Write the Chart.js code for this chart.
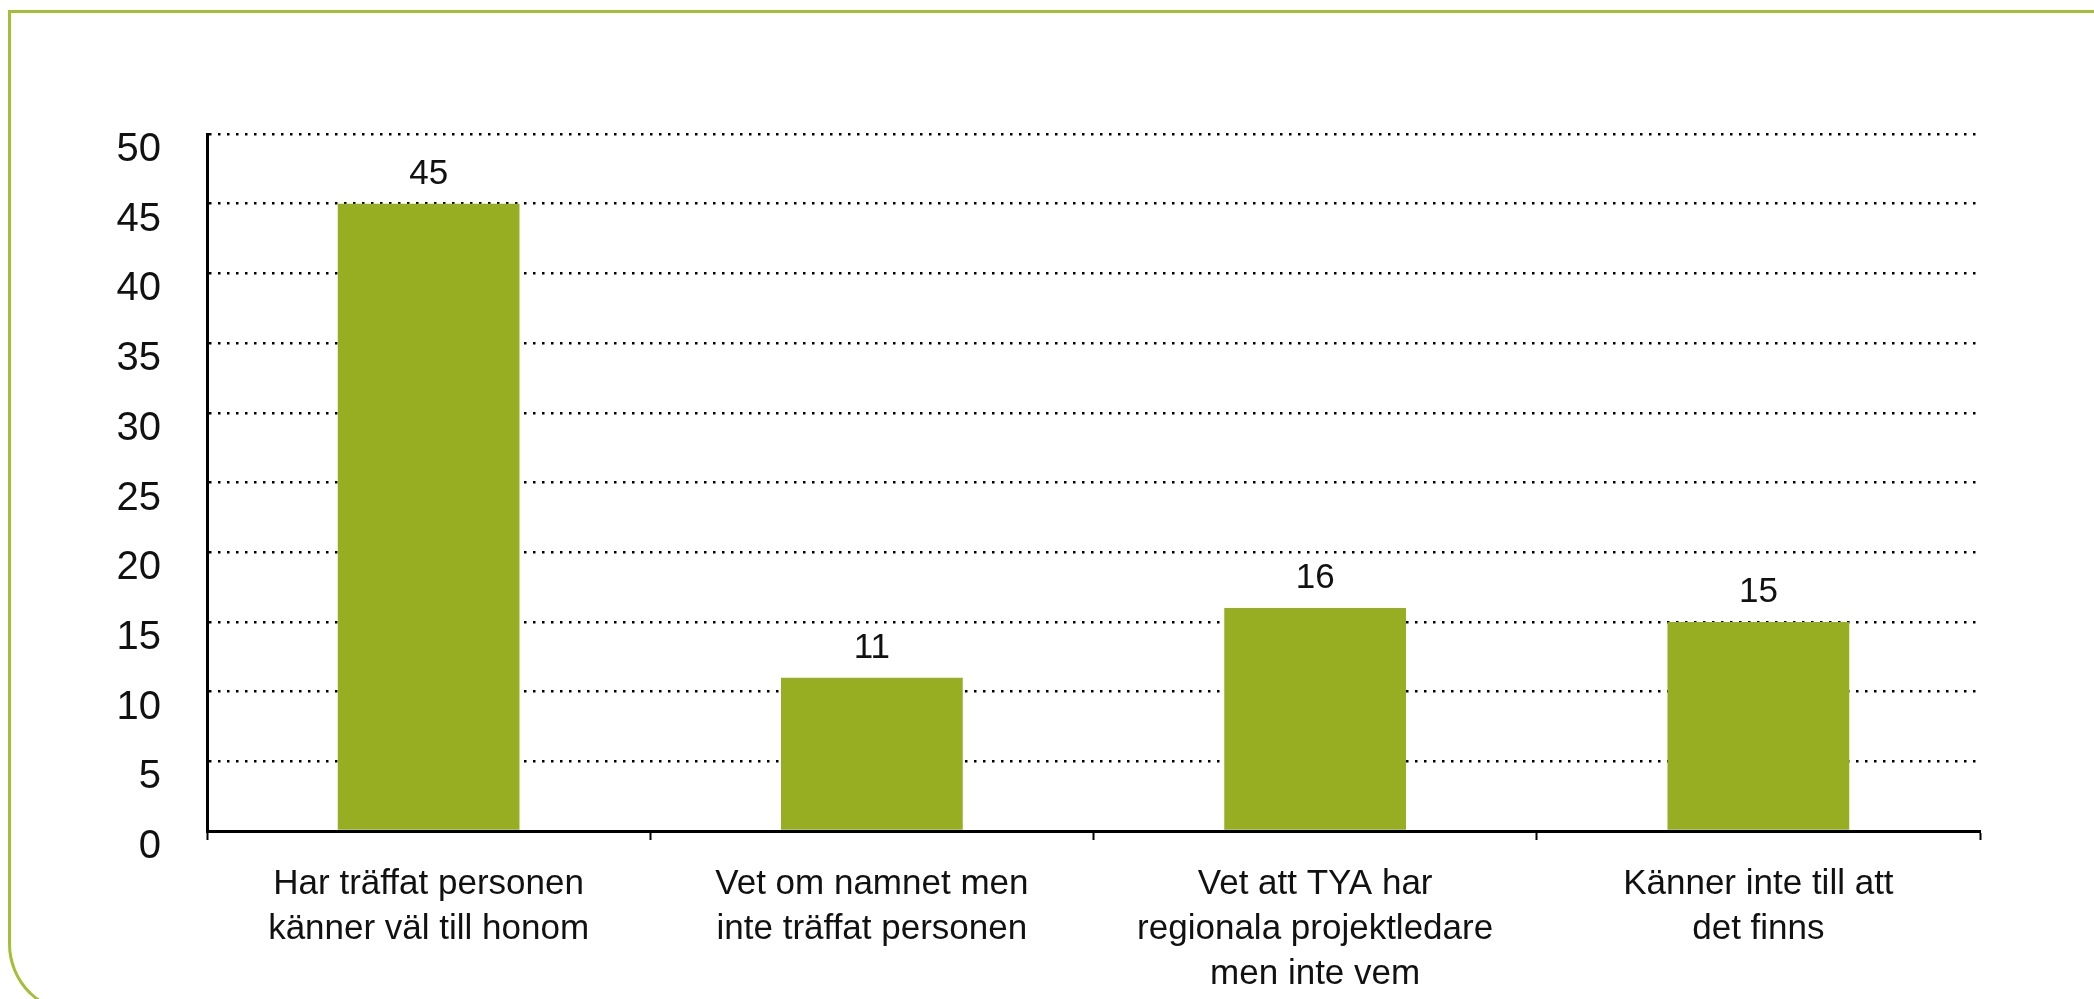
<!DOCTYPE html>
<html>
<head>
<meta charset="utf-8">
<script src="https://cdn.jsdelivr.net/npm/chart.js@4/dist/chart.umd.min.js"></script>
<style>
    html, body { margin: 0; padding: 0; background: #ffffff; overflow: hidden; }
    #frame {
        position: absolute; left: 8px; top: 10px; width: 2200px; height: 998px;
        border-top: 3px solid #a3bf35; border-left: 3px solid #a3bf35; border-bottom: 3px solid #a3bf35;
        border-bottom-left-radius: 70px;
    }
    #wrap { position: absolute; left: 0; top: 0; width: 2094px; height: 999px; }
</style>
</head>
<body>
<div id="frame"></div>
<div id="wrap"><canvas id="chart" width="2094" height="999"></canvas></div>
<script>
// Data -----------------------------------------------------------------------------------

var CATEGORIES = [
    ['Har träffat personen', 'känner väl till honom'],
    ['Vet om namnet men', 'inte träffat personen'],
    ['Vet att TYA har', 'regionala projektledare', 'men inte vem'],
    ['Känner inte till att', 'det finns']
];
var VALUES = [45, 11, 16, 15];
var Y_TICKS = [0, 5, 10, 15, 20, 25, 30, 35, 40, 45, 50];

// Style ----------------------------------------------------------------------------------

var BAR_COLOR = '#97ae22';
var TEXT_COLOR = '#111111';
var FONT = '"Liberation Sans", Arial, sans-serif';

// Draws the value above each bar, position taken from the bar element
var valueLabels = {
    id: 'valueLabels',
    afterDatasetsDraw: function (chart) {
        var ctx = chart.ctx;
        var meta = chart.getDatasetMeta(0);
        ctx.save();
        ctx.font = '35px ' + FONT;
        ctx.fillStyle = TEXT_COLOR;
        ctx.textAlign = 'center';
        ctx.textBaseline = 'alphabetic';
        meta.data.forEach(function (bar, i) {
            ctx.fillText(String(VALUES[i]), bar.x, bar.y - 20);
        });
        ctx.restore();
    }
};

var chart = new Chart(document.getElementById('chart').getContext('2d'), {
    type: 'bar',
    data: {
        labels: CATEGORIES,
        datasets: [{
            data: VALUES,
            backgroundColor: BAR_COLOR,
            borderWidth: 0,
            barPercentage: 0.41,
            categoryPercentage: 1.0
        }]
    },
    options: {
        responsive: false,
        animation: false,
        layout: { padding: { top: 134, right: 114, left: 0, bottom: 0 } },
        plugins: { legend: { display: false }, tooltip: { enabled: false } },
        scales: {
            x: {
                grid: {
                    offset: true,
                    drawOnChartArea: false,
                    drawTicks: true,
                    tickLength: 9,
                    tickColor: '#000000',
                    tickWidth: 2
                },
                border: { color: '#000000', width: 3 },
                ticks: {
                    color: TEXT_COLOR,
                    padding: 22,
                    maxRotation: 0,
                    autoSkip: false,
                    font: { family: FONT, size: 35, lineHeight: 1.28 }
                },
                afterFit: function (scale) { scale.height = 999 - 831; }
            },
            y: {
                min: 0,
                max: 50,
                afterBuildTicks: function (scale) {
                    scale.ticks = Y_TICKS.map(function (v) { return { value: v }; });
                },
                grid: {
                    color: '#000000',
                    lineWidth: 2.5,
                    drawTicks: false
                },
                border: { color: '#000000', width: 3, dash: [2.5, 6.5] },
                ticks: {
                    color: TEXT_COLOR,
                    padding: 46,
                    labelOffset: 16,
                    font: { family: FONT, size: 40 }
                },
                afterFit: function (scale) { scale.width = 207; }
            }
        }
    },
    plugins: [valueLabels]
});
</script>
</body>
</html>
